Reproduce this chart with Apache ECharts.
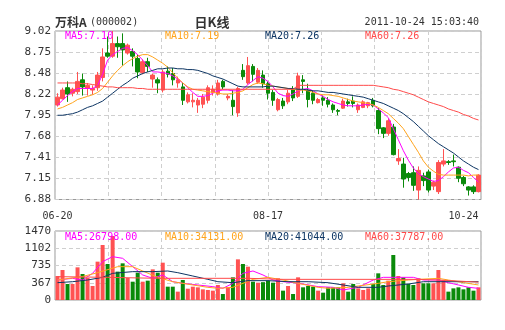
<!DOCTYPE html>
<html><head><meta charset="utf-8">
<script src="https://cdn.jsdelivr.net/npm/echarts@6/dist/echarts.min.js"></script>
<style>html,body{margin:0;padding:0;background:#fff}#c{width:505px;height:330px}</style>
</head><body><div id="c"></div>
<script>
const dates = ['06-20','06-21','06-22','06-23','06-24','06-27','06-28','06-29','06-30',
'07-01','07-04','07-05','07-06','07-07','07-08','07-11','07-12','07-13','07-14','07-15','07-18','07-19','07-20','07-21','07-22','07-25','07-26','07-27','07-28','07-29',
'08-01','08-02','08-03','08-04','08-05','08-08','08-09','08-10','08-11','08-12','08-15','08-16','08-17','08-18','08-19','08-22','08-23','08-24','08-25','08-26','08-29','08-30','08-31',
'09-01','09-02','09-05','09-06','09-07','09-08','09-09','09-13','09-14','09-15','09-16','09-19','09-20','09-21','09-22','09-23','09-26','09-27','09-28','09-29','09-30',
'10-10','10-11','10-12','10-13','10-14','10-17','10-18','10-19','10-20','10-21','10-24'];
const labelDays = ['06-20','08-17','10-24'];

const open = [8.08,8.16,8.30,8.23,8.25,8.40,8.29,8.27,8.30,8.43,
8.74,8.70,8.86,8.86,8.74,8.76,8.67,8.49,8.63,8.41,
8.40,8.27,8.51,8.48,8.36,8.31,8.12,8.12,8.08,8.09,
8.14,8.24,8.22,8.38,8.17,8.14,7.98,8.52,8.36,8.57,
8.37,8.46,8.35,8.24,8.02,8.13,8.12,8.28,8.19,8.40,
8.27,8.23,8.11,8.17,8.14,8.08,8.01,8.04,8.12,8.13,
8.02,8.05,8.07,8.14,8.01,7.79,7.72,7.80,7.37,7.33,
7.21,7.22,7.00,7.18,7.23,7.05,6.98,7.33,7.36,7.37,
7.29,7.16,7.04,7.04,6.98];
const close = [8.18,8.27,8.22,8.28,8.38,8.31,8.33,8.29,8.46,8.69,
8.70,8.86,8.82,8.78,8.84,8.70,8.50,8.63,8.57,8.46,
8.36,8.50,8.47,8.40,8.40,8.14,8.21,8.14,8.14,8.18,
8.30,8.28,8.36,8.31,8.19,8.06,8.29,8.44,8.58,8.47,
8.52,8.35,8.23,8.14,8.15,8.07,8.23,8.17,8.45,8.38,
8.15,8.14,8.15,8.14,8.09,8.02,8.00,8.13,8.10,8.10,
8.08,8.12,8.11,8.07,7.78,7.72,7.88,7.45,7.40,7.14,
7.16,7.06,7.25,7.12,7.00,7.10,7.35,7.37,7.35,7.36,
7.15,7.08,7.00,6.98,7.19];
const low = [8.06,8.15,8.12,8.19,8.22,8.20,8.20,8.21,8.26,8.38,
8.68,8.68,8.68,8.58,8.72,8.57,8.42,8.47,8.50,8.30,
8.23,8.24,8.43,8.33,8.30,8.08,8.10,8.05,7.98,8.04,
8.10,8.20,8.20,8.28,8.14,7.95,7.93,8.40,8.34,8.38,
8.35,8.30,8.15,8.07,8.00,8.03,8.09,8.13,8.17,8.23,
8.05,8.09,8.10,8.07,8.05,7.98,7.95,8.03,8.06,8.05,
7.98,8.04,8.04,8.05,7.71,7.66,7.69,7.44,7.32,7.03,
7.11,6.99,6.88,7.05,6.97,7.00,6.95,7.30,7.32,7.30,
7.10,7.05,6.93,6.95,6.97];
const high = [8.23,8.30,8.38,8.30,8.50,8.48,8.36,8.33,8.50,8.80,
8.95,9.02,8.95,8.99,8.86,8.80,8.72,8.66,8.68,8.48,
8.43,8.53,8.57,8.55,8.44,8.36,8.24,8.23,8.17,8.22,
8.33,8.33,8.40,8.40,8.22,8.27,8.31,8.60,8.69,8.60,
8.55,8.52,8.38,8.27,8.17,8.17,8.27,8.32,8.49,8.46,
8.35,8.26,8.17,8.20,8.18,8.10,8.03,8.16,8.16,8.19,
8.10,8.14,8.12,8.17,8.04,7.80,7.91,7.84,7.52,7.41,
7.23,7.30,7.30,7.22,7.26,7.12,7.38,7.52,7.38,7.45,
7.30,7.18,7.05,7.06,7.20];

const ma5 = [8.08,8.14,8.20,8.25,8.29,8.29,8.29,8.29,8.33,8.47,
8.65,8.72,8.76,8.80,8.81,8.77,8.72,8.65,8.58,8.50,
8.50,8.49,8.48,8.45,8.41,8.36,8.30,8.24,8.19,8.19,
8.20,8.23,8.26,8.27,8.27,8.26,8.26,8.28,8.34,8.39,
8.44,8.42,8.38,8.31,8.23,8.20,8.19,8.22,8.26,8.28,
8.29,8.26,8.22,8.19,8.15,8.12,8.10,8.08,8.07,8.07,
8.07,8.08,8.09,8.08,8.03,7.98,7.92,7.78,7.64,7.50,
7.38,7.28,7.21,7.17,7.14,7.11,7.12,7.17,7.23,7.28,
7.29,7.25,7.22,7.16,7.10];
const ma10 = [8.03,8.05,8.08,8.11,8.15,8.17,8.19,8.21,8.24,8.29,
8.37,8.45,8.52,8.58,8.63,8.67,8.70,8.72,8.72,8.69,
8.65,8.61,8.56,8.49,8.42,8.36,8.31,8.28,8.27,8.26,
8.25,8.24,8.23,8.22,8.22,8.23,8.24,8.26,8.30,8.34,
8.36,8.35,8.33,8.32,8.31,8.30,8.29,8.28,8.27,8.27,
8.26,8.24,8.22,8.21,8.21,8.20,8.19,8.17,8.15,8.13,
8.12,8.11,8.10,8.08,8.05,8.01,7.97,7.91,7.85,7.78,
7.68,7.58,7.48,7.37,7.29,7.24,7.20,7.19,7.19,7.19,
7.19,7.19,7.18,7.19,7.19];
const ma20 = [7.95,7.95,7.96,7.97,7.99,8.02,8.05,8.07,8.10,8.13,
8.18,8.23,8.28,8.33,8.37,8.42,8.45,8.48,8.50,8.52,
8.54,8.54,8.55,8.55,8.54,8.54,8.53,8.53,8.52,8.50,
8.48,8.45,8.43,8.41,8.38,8.35,8.32,8.31,8.31,8.31,
8.31,8.31,8.32,8.32,8.31,8.30,8.29,8.29,8.28,8.28,
8.27,8.26,8.26,8.25,8.24,8.24,8.23,8.22,8.21,8.20,
8.19,8.18,8.16,8.14,8.12,8.10,8.07,8.04,8.01,7.97,
7.92,7.87,7.81,7.75,7.69,7.64,7.59,7.55,7.51,7.47,
7.42,7.37,7.33,7.29,7.26];
const ma60 = [8.36,8.36,8.36,8.36,8.36,8.35,8.35,8.34,8.33,8.32,
8.31,8.31,8.30,8.30,8.30,8.30,8.29,8.29,8.28,8.28,
8.28,8.28,8.28,8.28,8.28,8.28,8.28,8.28,8.28,8.28,
8.28,8.28,8.28,8.28,8.28,8.28,8.28,8.28,8.28,8.28,
8.28,8.28,8.28,8.28,8.28,8.28,8.28,8.28,8.33,8.33,
8.33,8.33,8.33,8.33,8.33,8.33,8.33,8.33,8.33,8.33,
8.33,8.33,8.33,8.33,8.32,8.31,8.30,8.28,8.27,8.25,
8.23,8.21,8.18,8.15,8.12,8.10,8.08,8.06,8.03,8.01,
7.99,7.96,7.94,7.91,7.89];

const volume = [511,639,341,341,696,554,469,298,817,1172,
767,1363,604,781,469,390,582,390,412,653,
582,795,284,284,178,426,241,284,270,227,
213,199,320,128,270,483,866,767,710,390,
369,380,412,369,462,199,298,128,483,270,
298,284,199,156,270,270,270,355,178,341,
248,213,248,341,568,320,412,959,511,483,
341,320,462,355,355,355,639,426,178,248,
270,227,270,199,270];
const volMa5 = [[0,426],[3,462],[5,426],[7,568],[9,817],[11,923],[13,888],[15,710],[17,533],[19,462],[21,533],[23,390],[25,355],[28,320],[31,284],[33,249],[35,355],[37,568],[39,618],[41,533],[43,426],[45,390],[47,370],[49,341],[52,284],[55,270],[57,213],[60,270],[63,426],[65,483],[67,483],[71,483],[73,426],[76,426],[78,369],[80,320],[82,270],[84,248]];
const volMa10 = [[0,426],[5,500],[8,582],[12,710],[15,710],[17,618],[20,483],[23,390],[27,320],[30,270],[32,249],[35,270],[37,355],[39,440],[42,483],[45,426],[48,355],[52,270],[54,249],[58,270],[60,298],[64,355],[66,390],[70,426],[72,440],[76,462],[78,426],[81,369],[84,320]];
const volMa20 = [[0,369],[3,390],[6,426],[9,483],[11,568],[15,604],[19,604],[22,618],[24,582],[27,511],[30,440],[32,390],[35,369],[38,412],[42,412],[46,390],[50,390],[54,369],[57,320],[60,270],[64,270],[66,298],[70,341],[73,390],[84,390]];
const volMa60 = [[0,497],[10,483],[20,462],[38,462],[45,440],[72,440],[76,426],[84,380]];

const priceTicks = ['6.88','7.15','7.41','7.68','7.95','8.22','8.48','8.75','9.02'];
const volTicks = ['0','367','735','1102','1470'];
const priceLegend = ['MA5:7.10','MA10:7.19','MA20:7.26','MA60:7.26'];
const volLegend = ['MA5:26798.00','MA10:34131.00','MA20:41044.00','MA60:37787.00'];

const UP = '#ff5252', DOWN = '#0a8a0a';
const C5 = '#ff00ff', C10 = '#ffa41c', C20 = '#0d3563', C60 = '#ff4a4a';
const MONO = "'DejaVu Sans Mono', monospace";
const GRID = '#cfcfcf';

const kData = open.map((o, i) => [o, close[i], low[i], high[i]]);
const volData = volume.map((v, i) => ({value: v, itemStyle: {color: close[i] >= open[i] ? UP : DOWN}}));

const chart = echarts.init(document.getElementById('c'), null, {renderer: 'canvas'});
const dashed = {show: true, lineStyle: {color: GRID, type: [4, 3], width: 1}};
const legendColors = [C5, C10, C20, C60];
const legendX = [65, 165, 265, 365];
const graphics = [
  {type: 'text', x: 55, y: 22, style: {text: '万科A', fill: '#333', font: 'bold 12px "Noto Sans CJK SC"', align: 'left', verticalAlign: 'middle'}},
  {type: 'text', x: 90, y: 22, style: {text: '(000002)', fill: '#333', font: '10px ' + MONO, align: 'left', verticalAlign: 'middle'}},
  {type: 'text', x: 212, y: 22, style: {text: '日K线', fill: '#333', font: 'bold 13px "Noto Sans CJK SC"', align: 'center', verticalAlign: 'middle'}},
  {type: 'text', x: 479, y: 22, style: {text: '2011-10-24 15:03:40', fill: '#333', font: '10px ' + MONO, align: 'right', verticalAlign: 'middle'}}
];
priceLegend.forEach((t, k) => graphics.push({type: 'text', x: legendX[k], y: 36, z: 100, style: {text: t, fill: legendColors[k], font: '10px ' + MONO, align: 'left', verticalAlign: 'middle'}}));
volLegend.forEach((t, k) => graphics.push({type: 'text', x: legendX[k], y: 237, z: 100, style: {text: t, fill: legendColors[k], font: '10px ' + MONO, align: 'left', verticalAlign: 'middle'}}));

const lineS = (name, data, color, xi, yi) => ({name, type: 'line', data, xAxisIndex: xi, yAxisIndex: yi, symbol: 'none', smooth: false, z: 5,
  lineStyle: {color, width: 1}, itemStyle: {color}, silent: true});

chart.setOption({
  animation: false,
  backgroundColor: '#fff',
  graphic: graphics,
  grid: [
    {left: 55, top: 31, width: 426, height: 168.5, show: true, borderColor: '#999', borderWidth: 1},
    {left: 55, top: 231, width: 426, height: 69, show: true, borderColor: '#999', borderWidth: 1}
  ],
  xAxis: [
    {type: 'category', gridIndex: 0, data: dates, boundaryGap: true,
      axisLine: {show: false}, axisTick: {show: false}, splitLine: {show: false},
      axisLabel: {interval: (idx, val) => labelDays.includes(val), color: '#333', fontFamily: MONO, fontSize: 10, margin: 12, alignMaxLabel: 'right'}},
    {type: 'category', gridIndex: 1, data: dates, boundaryGap: true,
      axisLine: {show: false}, axisTick: {show: false}, axisLabel: {show: false}, splitLine: {show: false}},
    {type: 'value', gridIndex: 0, min: 0, max: 8, interval: 1, axisLine: {show: false}, axisTick: {show: false}, axisLabel: {show: false}, splitLine: dashed},
    {type: 'value', gridIndex: 1, min: 0, max: 8, interval: 1, axisLine: {show: false}, axisTick: {show: false}, axisLabel: {show: false}, splitLine: dashed}
  ],
  yAxis: [
    {type: 'value', gridIndex: 0, position: 'left', min: 6.88, max: 9.02, show: false},
    {type: 'value', gridIndex: 0, position: 'left', min: 0, max: 8, interval: 1,
      axisLine: {show: false}, axisTick: {show: false}, splitLine: dashed,
      axisLabel: {formatter: v => priceTicks[Math.round(v)], color: '#333', fontFamily: MONO, fontSize: 11, margin: 4}},
    {type: 'value', gridIndex: 1, position: 'left', min: 0, max: 1470, interval: 367.5,
      axisLine: {show: false}, axisTick: {show: false}, splitLine: dashed,
      axisLabel: {formatter: v => volTicks[Math.round(v / 367.5)], color: '#333', fontFamily: MONO, fontSize: 11, margin: 4}}
  ],
  series: [
    {type: 'candlestick', xAxisIndex: 0, yAxisIndex: 0, data: kData, barWidth: 4, z: 3,
      itemStyle: {color: UP, color0: DOWN, borderColor: UP, borderColor0: DOWN, borderWidth: 1}},
    lineS('MA5', ma5, C5, 0, 0),
    lineS('MA10', ma10, C10, 0, 0),
    lineS('MA20', ma20, C20, 0, 0),
    lineS('MA60', ma60, C60, 0, 0),
    {type: 'bar', xAxisIndex: 1, yAxisIndex: 2, data: volData, barWidth: 4, z: 3, silent: true},
    lineS('VMA5', volMa5, C5, 1, 2),
    lineS('VMA10', volMa10, C10, 1, 2),
    lineS('VMA20', volMa20, C20, 1, 2),
    lineS('VMA60', volMa60, C60, 1, 2)
  ]
});
</script></body></html>
